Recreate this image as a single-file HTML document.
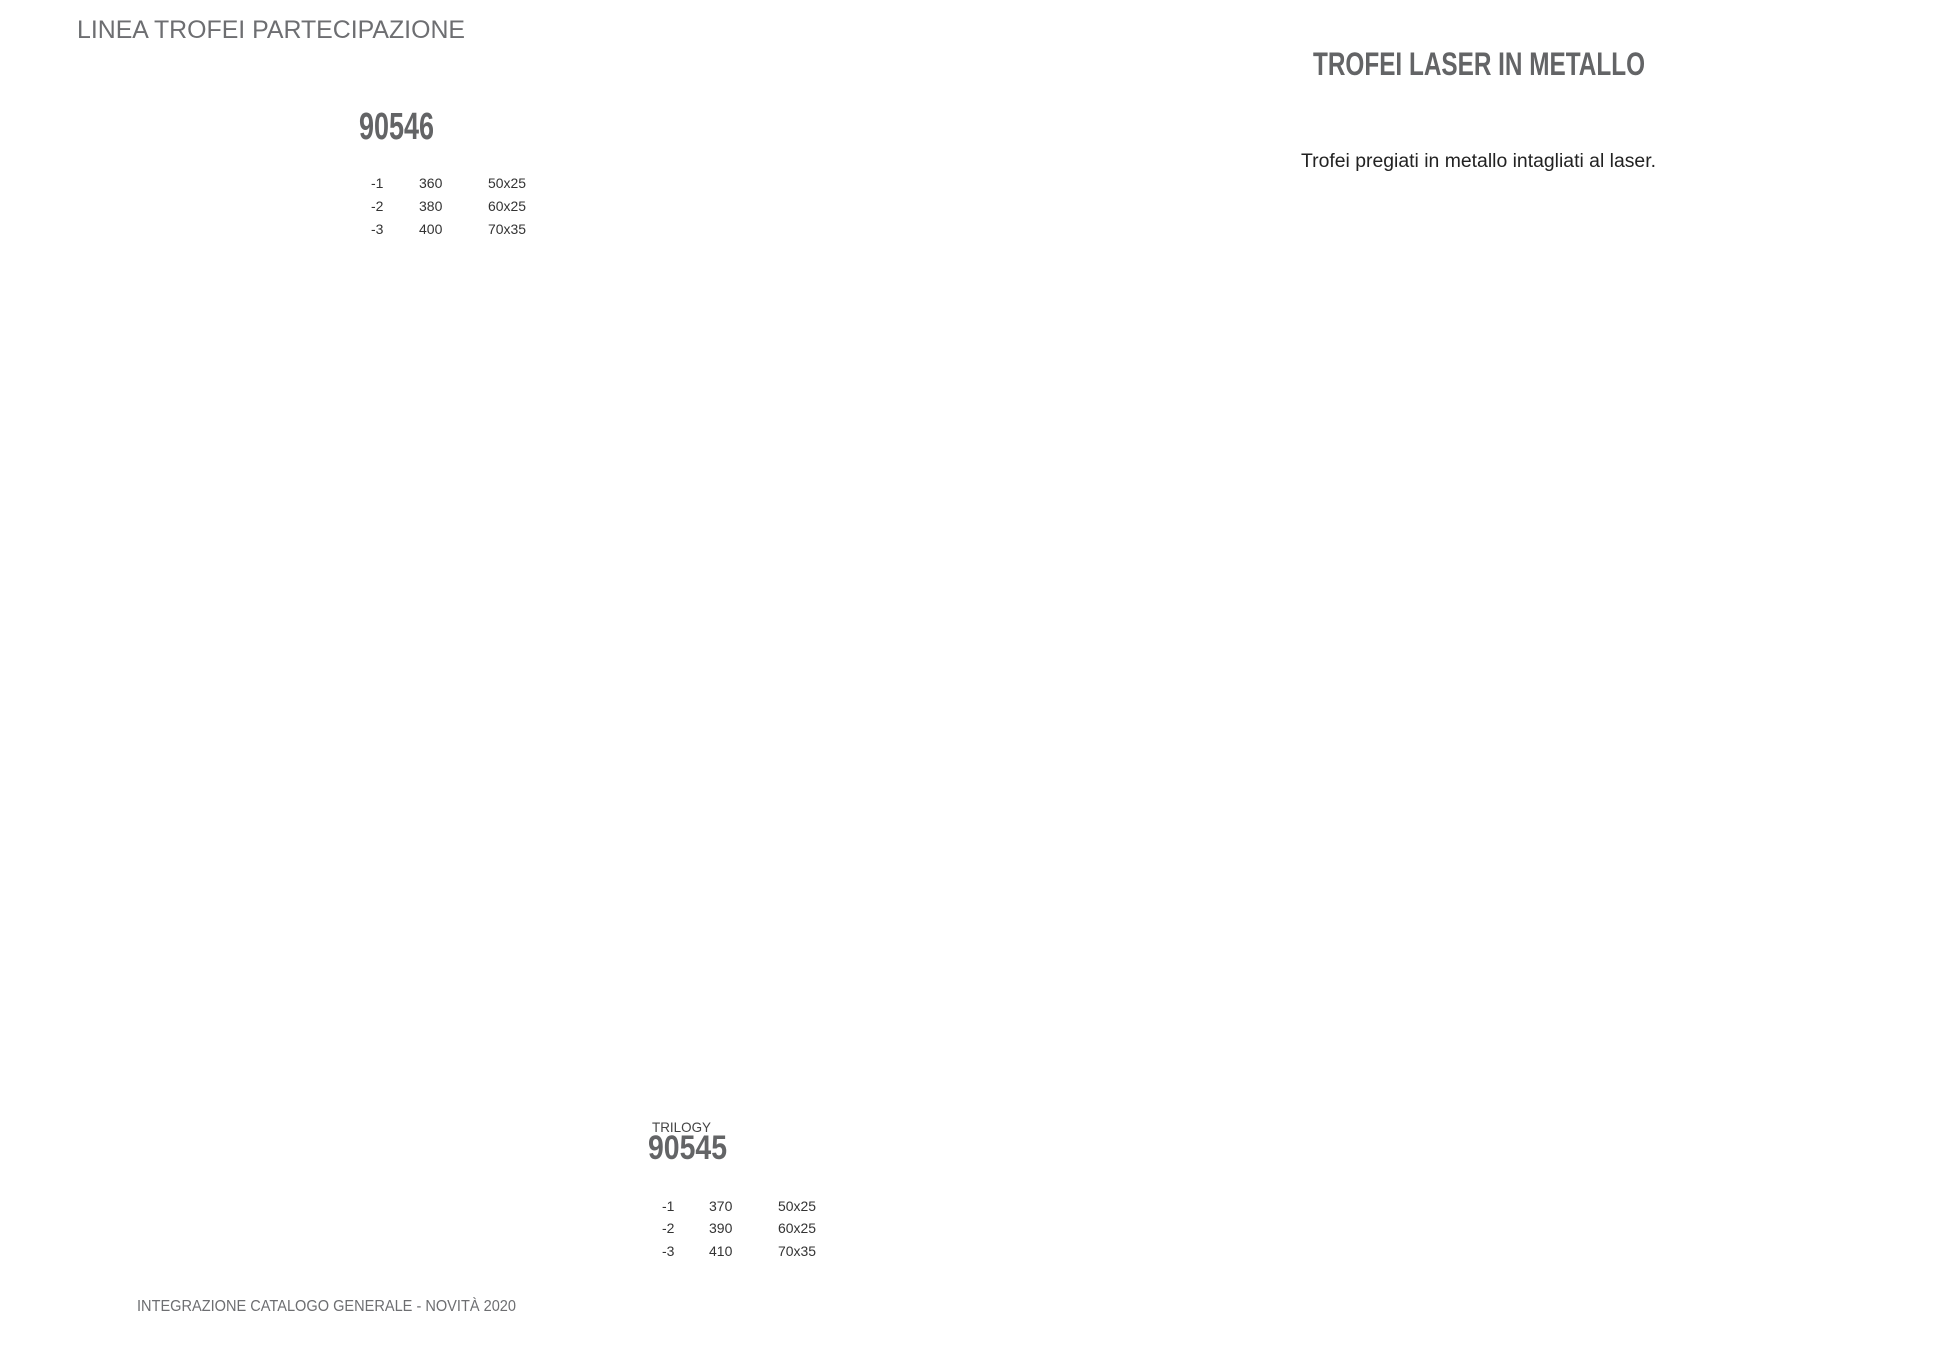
<!DOCTYPE html>
<html><head><meta charset="utf-8"><style>
html,body{margin:0;padding:0;background:#fff;}
svg{display:block;}
text{font-family:"Liberation Sans",sans-serif;}
</style></head><body>
<svg width="1940" height="1350" viewBox="0 0 1940 1350" xmlns="http://www.w3.org/2000/svg">
<text x="77" y="38" font-size="25" fill="#6d6e71" textLength="388" lengthAdjust="spacingAndGlyphs">LINEA TROFEI PARTECIPAZIONE</text>
<text x="359" y="139" font-size="38" font-weight="bold" fill="#636466" textLength="75" lengthAdjust="spacingAndGlyphs">90546</text>
<g font-size="14" fill="#333">
<text x="371" y="188">-1</text><text x="419" y="188">360</text><text x="488" y="188" textLength="38" lengthAdjust="spacingAndGlyphs">50x25</text>
<text x="371" y="211">-2</text><text x="419" y="211">380</text><text x="488" y="211" textLength="38" lengthAdjust="spacingAndGlyphs">60x25</text>
<text x="371" y="234">-3</text><text x="419" y="234">400</text><text x="488" y="234" textLength="38" lengthAdjust="spacingAndGlyphs">70x35</text>
</g>
<text x="1313" y="75" font-size="32" font-weight="bold" fill="#636466" textLength="332" lengthAdjust="spacingAndGlyphs">TROFEI LASER IN METALLO</text>
<text x="1301" y="167" font-size="19" fill="#222" textLength="355" lengthAdjust="spacingAndGlyphs">Trofei pregiati in metallo intagliati al laser.</text>
<text x="652" y="1132" font-size="14" fill="#444" textLength="59" lengthAdjust="spacingAndGlyphs">TRILOGY</text>
<text x="648" y="1159" font-size="34" font-weight="bold" fill="#636466" textLength="79" lengthAdjust="spacingAndGlyphs">90545</text>
<g font-size="14" fill="#333">
<text x="662" y="1211">-1</text><text x="709" y="1211">370</text><text x="778" y="1211" textLength="38" lengthAdjust="spacingAndGlyphs">50x25</text>
<text x="662" y="1233">-2</text><text x="709" y="1233">390</text><text x="778" y="1233" textLength="38" lengthAdjust="spacingAndGlyphs">60x25</text>
<text x="662" y="1256">-3</text><text x="709" y="1256">410</text><text x="778" y="1256" textLength="38" lengthAdjust="spacingAndGlyphs">70x35</text>
</g>
<text x="137" y="1311" font-size="16" fill="#6d6e71" textLength="379" lengthAdjust="spacingAndGlyphs">INTEGRAZIONE CATALOGO GENERALE - NOVITÀ 2020</text>
</svg>
</body></html>
